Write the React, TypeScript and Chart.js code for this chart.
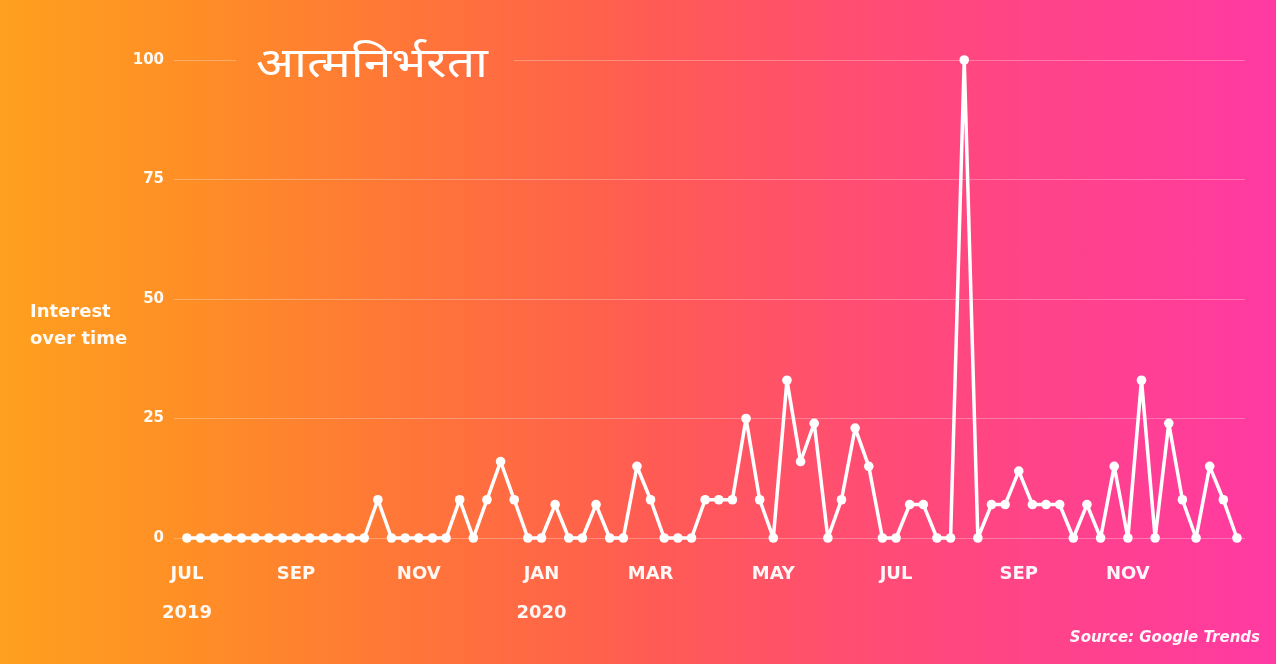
import React, { useEffect, useRef } from "react";
import { Chart, registerables } from "chart.js";

Chart.register(...registerables);

// weekly search interest, Jul 2019 - Dec 2020
const interest = [
  0, 0, 0, 0, 0, 0, 0, 0, 0, 0, 0, 0, 0, 0, 8, 0, 0, 0, 0, 0,
  8, 0, 8, 16, 8, 0, 0, 7, 0, 0, 7, 0, 0, 15, 8, 0, 0, 0, 8, 8,
  8, 25, 8, 0, 33, 16, 24, 0, 8, 23, 15, 0, 0, 7, 7, 0, 0, 100, 0, 7,
  7, 14, 7, 7, 7, 0, 7, 0, 15, 0, 33, 0, 24, 8, 0, 15, 8, 0,
];

// month ticks: week index, month, year
const tickWeeks = [0, 8, 17, 26, 34, 43, 52, 61, 69];
const tickMonths = ["JUL", "SEP", "NOV", "JAN", "MAR", "MAY", "JUL", "SEP", "NOV"];
const tickYears = ["2019", "", "", "2020", "", "", "", "", ""];

const yTicks = [0, 25, 50, 75, 100];

const title = "आत्मनिर्भरता";

const FONT = "'DejaVu Sans', sans-serif";

// hide the 100 gridline behind the title, then write the title
const titlePlugin = {
  id: "titleText",
  beforeDatasetsDraw(chart: Chart) {
    chart.ctx.clearRect(236, 40, 278, 44);
  },
  afterDraw(chart: Chart) {
    const ctx = chart.ctx;
    ctx.save();
    ctx.fillStyle = "#ffffff";
    ctx.font = "41px 'Noto Sans', 'Noto Sans Devanagari', sans-serif";
    ctx.textBaseline = "alphabetic";
    ctx.textAlign = "left";
    const w = ctx.measureText(title).width;
    ctx.translate(256, 77);
    ctx.scale(232 / w, 1);
    ctx.fillText(title, 0, 0);
    ctx.restore();
  },
};

function App() {
  const canvasRef = useRef<HTMLCanvasElement | null>(null);

  useEffect(() => {
    if (!canvasRef.current) return;
    const chart = new Chart(canvasRef.current, {
      type: "line",
      data: {
        datasets: [
          {
            label: "Interest over time",
            data: interest.map((v, i) => ({ x: i, y: v })),
            borderColor: "#ffffff",
            borderWidth: 3.5,
            borderJoinStyle: "round",
            borderCapStyle: "round",
            backgroundColor: "#ffffff",
            pointRadius: 4.8,
            pointBorderWidth: 0,
            pointBackgroundColor: "#ffffff",
            tension: 0,
            clip: false as any,
          },
        ],
      },
      options: {
        animation: false,
        responsive: false,
        maintainAspectRatio: false,
        layout: { padding: { left: 0, right: 31, top: 60, bottom: 0 } },
        plugins: {
          legend: { display: false },
          tooltip: { enabled: false },
        },
        scales: {
          x: {
            type: "linear",
            min: -0.51,
            max: 77.59,
            grid: { display: false, drawTicks: false },
            border: { display: false },
            afterBuildTicks: (scale: any) => {
              scale.ticks = tickWeeks.map((w) => ({ value: w }));
            },
            afterFit: (scale: any) => {
              scale.height = 126;
            },
            ticks: {
              autoSkip: false,
              maxRotation: 0,
              padding: 17,
              color: "rgba(255,255,255,0.95)",
              font: { family: FONT, size: 18, weight: "bold", lineHeight: 2.15 },
              callback: (value: any) => {
                const k = tickWeeks.indexOf(Number(value));
                if (k < 0) return "";
                return tickYears[k] ? [tickMonths[k], tickYears[k]] : tickMonths[k];
              },
            },
          },
          y: {
            min: 0,
            max: 100,
            grid: {
              color: "rgba(255,255,255,0.28)",
              lineWidth: 1,
              drawTicks: true,
              tickLength: 6,
            },
            border: { display: false },
            afterBuildTicks: (scale: any) => {
              scale.ticks = yTicks.map((v) => ({ value: v }));
            },
            afterFit: (scale: any) => {
              scale.width = 180;
            },
            ticks: {
              padding: 10,
              color: "rgba(255,255,255,0.95)",
              font: { family: FONT, size: 15, weight: "bold" },
            },
          },
        },
      },
      plugins: [titlePlugin],
    });
    return () => chart.destroy();
  }, []);

  return (
    <div
      style={{
        position: "fixed",
        left: 0,
        top: 0,
        width: 1276,
        height: 664,
        overflow: "hidden",
        background:
          "linear-gradient(to right, #ffa01e 0%, #ff8e26 15%, #ff7638 32%, #ff6449 45%, #ff5a56 52%, #ff4f6e 65%, #ff4584 78%, #ff3aa2 100%)",
      }}
    >
      <canvas ref={canvasRef} width={1276} height={664} style={{ position: "absolute", left: 0, top: 0 }} />
      <div
        style={{
          position: "absolute",
          left: 30,
          top: 297,
          color: "rgba(255,255,255,0.95)",
          fontFamily: FONT,
          fontWeight: "bold",
          fontSize: 18,
          lineHeight: "27px",
        }}
      >
        Interest
        <br />
        over time
      </div>
      <div
        style={{
          position: "absolute",
          right: 16,
          top: 628,
          color: "rgba(255,255,255,0.95)",
          fontFamily: FONT,
          fontWeight: "bold",
          fontStyle: "italic",
          fontSize: 15,
        }}
      >
        Source: Google Trends
      </div>
    </div>
  );
}

export default App;
